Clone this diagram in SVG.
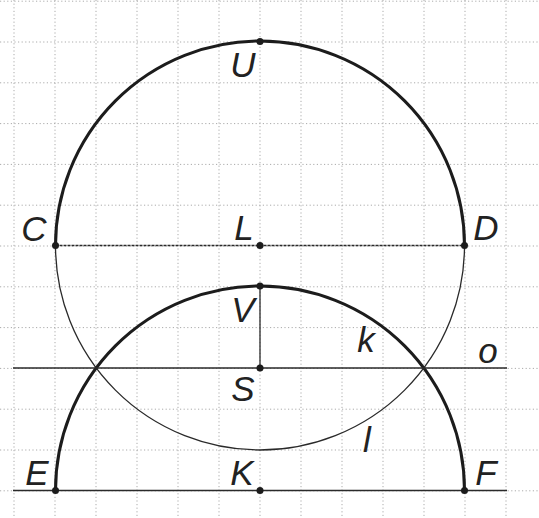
<svg xmlns="http://www.w3.org/2000/svg" width="539" height="518" viewBox="0 0 539 518">
<style>
.grid{stroke:#ababab;stroke-width:1;stroke-dasharray:1.2 2.4;fill:none}
.thick{stroke:#1c1c1c;stroke-width:3;fill:none}
.thin{stroke:#2a2a2a;stroke-width:1.3;fill:none}
.line{stroke:#2a2a2a;stroke-width:1.6;fill:none}
.dash{stroke:#2a2a2a;stroke-width:1.6;stroke-dasharray:3 1;fill:none}
.pt{fill:#1c1c1c}
text{font-family:"Liberation Sans",Arial,sans-serif;font-style:italic;font-size:35px;fill:#222;text-anchor:middle}
</style>
<rect width="539" height="518" fill="#ffffff"/>
<g id="grid">
<path class="grid" d="M14 0V518M55 0V518M96 0V518M137 0V518M178 0V518M219 0V518M260 0V518M301 0V518M342 0V518M383 0V518M424 0V518M465 0V518M506 0V518"/>
<path class="grid" d="M0 1.2H539M0 42H539M0 82.8H539M0 123.6H539M0 164.4H539M0 205.2H539M0 246H539M0 286.8H539M0 327.6H539M0 368.4H539M0 409.2H539M0 450H539M0 490.8H539"/>
</g>
<g id="connectors">
<path id="circle-l-upper" class="thick" d="M55.5 245.5A204.5 204.5 0 0 1 464.5 245.5"/>
<path id="circle-l-lower" class="thin" d="M464.5 245.5A204.5 204.5 0 0 1 55.5 245.5"/>
<path id="arc-k" class="thick" d="M55.5 490.5A204.5 204.5 0 0 1 464.5 490.5"/>
<path id="seg-CD" class="dash" d="M55.5 245.5H464.5"/>
<path id="line-o" class="line" d="M13 368H507"/>
<path id="line-EF" class="line" d="M13 490.5H507"/>
<path id="seg-VS" class="thin" d="M260 286V368"/>
</g>
<g id="node-U"><circle class="pt" cx="260" cy="41.5" r="3.5"/><text x="243" y="77">U</text></g>
<g id="node-C"><circle class="pt" cx="55.5" cy="245.5" r="3.5"/><text x="34" y="241">C</text></g>
<g id="node-L"><circle class="pt" cx="260" cy="245.5" r="3.5"/><text x="244" y="240">L</text></g>
<g id="node-D"><circle class="pt" cx="464.5" cy="245.5" r="3.5"/><text x="486" y="240">D</text></g>
<g id="node-V"><circle class="pt" cx="260" cy="286" r="3.5"/><text x="243" y="322">V</text></g>
<g id="node-S"><circle class="pt" cx="260" cy="368" r="3.5"/><text x="243" y="401">S</text></g>
<g id="node-E"><circle class="pt" cx="55.5" cy="490.5" r="3.5"/><text x="37" y="485">E</text></g>
<g id="node-K"><circle class="pt" cx="260" cy="490.5" r="3.5"/><text x="242" y="485">K</text></g>
<g id="node-F"><circle class="pt" cx="464.5" cy="490.5" r="3.5"/><text x="486" y="485">F</text></g>
<g id="label-k"><text x="366" y="352">k</text></g>
<g id="label-o"><text x="488" y="363">o</text></g>
<g id="label-l"><text x="367" y="452">l</text></g>
</svg>
